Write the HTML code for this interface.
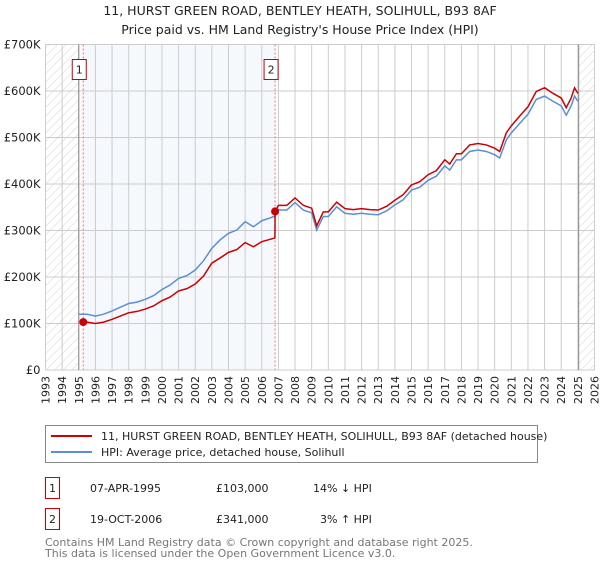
<!DOCTYPE html>
<html><head><meta charset="utf-8"><style>
body{margin:0;background:#fff;font-family:"DejaVu Sans","Liberation Sans",sans-serif;}
svg text{font-family:"DejaVu Sans","Liberation Sans",sans-serif;}
</style></head><body>
<svg id="chart" width="600" height="560" xmlns="http://www.w3.org/2000/svg">
<defs><pattern id="hatch" width="6" height="6" patternUnits="userSpaceOnUse" patternTransform="rotate(45)"><line x1="0" y1="0" x2="0" y2="6" stroke="#d4d4d4" stroke-width="1"/></pattern></defs>
<text x="300" y="15" text-anchor="middle" font-size="12.5" fill="#222">11, HURST GREEN ROAD, BENTLEY HEATH, SOLIHULL, B93 8AF</text>
<text x="300" y="34" text-anchor="middle" font-size="12.5" fill="#222">Price paid vs. HM Land Registry's House Price Index (HPI)</text>
<g id="plot"></g>
<g>
<rect x="45.5" y="425.5" width="492" height="37" fill="#fff" stroke="#888"/>
<line x1="51" y1="436" x2="92" y2="436" stroke="#cc0000" stroke-width="2"/>
<text x="101" y="440" font-size="11" fill="#222">11, HURST GREEN ROAD, BENTLEY HEATH, SOLIHULL, B93 8AF (detached house)</text>
<line x1="51" y1="452" x2="92" y2="452" stroke="#5b8fd4" stroke-width="2"/>
<text x="101" y="456" font-size="11" fill="#222">HPI: Average price, detached house, Solihull</text>
</g>
<g font-size="11" fill="#222">
<rect x="45.5" y="477.5" width="14" height="21" fill="#fff" stroke="#cc0000"/>
<text x="52.5" y="492" text-anchor="middle">1</text>
<text x="90" y="492">07-APR-1995</text><text x="216" y="492">£103,000</text><text x="313" y="492">14% ↓ HPI</text>
</g>
<g font-size="11" fill="#222">
<rect x="45.5" y="508.5" width="14" height="21" fill="#fff" stroke="#cc0000"/>
<text x="52.5" y="523" text-anchor="middle">2</text>
<text x="90" y="523">19-OCT-2006</text><text x="216" y="523">£341,000</text><text x="320" y="523">3% ↑ HPI</text>
</g>
<text x="45" y="546" font-size="11" fill="#777">Contains HM Land Registry data © Crown copyright and database right 2025.</text>
<text x="45" y="557" font-size="11" fill="#777">This data is licensed under the Open Government Licence v3.0.</text>
</svg>
<script>
const hpiYears=[1995,1995.5,1996,1996.5,1997,1997.5,1998,1998.5,1999,1999.5,2000,2000.5,2001,2001.5,2002,2002.5,2003,2003.5,2004,2004.5,2005,2005.5,2006,2006.5,2006.8,2007,2007.5,2008,2008.5,2009,2009.3,2009.7,2010,2010.5,2011,2011.5,2012,2012.5,2013,2013.5,2014,2014.5,2015,2015.5,2016,2016.5,2017,2017.3,2017.7,2018,2018.5,2019,2019.5,2020,2020.3,2020.7,2021,2021.5,2022,2022.5,2023,2023.5,2024,2024.3,2024.6,2024.8,2025];
const hpiValues=[120,120,116,120,127,135,143,146,152,160,173,183,197,203,215,235,262,280,294,301,319,308,321,327,331,344,344,360,344,338,301,330,330,351,337,335,337,335,334,342,355,366,387,393,408,417,439,430,452,452,470,473,470,463,456,495,510,530,550,582,589,578,568,548,568,589,578];
const priceYears=[1995.27,1995.5,1996,1996.5,1997,1997.5,1998,1998.5,1999,1999.5,2000,2000.5,2001,2001.5,2002,2002.5,2003,2003.5,2004,2004.5,2005,2005.5,2006,2006.5,2006.79,2006.8,2007,2007.5,2008,2008.5,2009,2009.3,2009.7,2010,2010.5,2011,2011.5,2012,2012.5,2013,2013.5,2014,2014.5,2015,2015.5,2016,2016.5,2017,2017.3,2017.7,2018,2018.5,2019,2019.5,2020,2020.3,2020.7,2021,2021.5,2022,2022.5,2023,2023.5,2024,2024.3,2024.6,2024.8,2025];
const priceValues=[103,103,100,103,109,116,123,126,131,138,149,157,170,175,185,202,230,241,253,259,274,265,276,281,284,341,354,354,370,354,348,310,340,340,361,347,345,347,345,344,352,365,377,398,405,420,429,452,443,465,465,484,487,484,477,470,510,525,546,566,599,607,595,585,564,585,607,595];
const saleYears=[1995.27,2006.8];
const saleValues=[103,341];
const yTicks=[0,100,200,300,400,500,600,700];
const yTickLabels=["£0","£100K","£200K","£300K","£400K","£500K","£600K","£700K"];
const xStart=1993,xEnd=2026;
const L=45.5,R=594.5,T=44.5,B=370;
const X=y=>L+(y-xStart)/(xEnd-xStart)*(R-L);
const Y=v=>B-v/700*(B-T);
const NS="http://www.w3.org/2000/svg";
const g=document.getElementById('plot');
function mk(t,a){const e=document.createElementNS(NS,t);for(const k in a)e.setAttribute(k,a[k]);g.appendChild(e);return e;}
let e;
e=mk('rect',{x:X(1995.27),y:T,width:X(2006.8)-X(1995.27),height:B-T,fill:'#eef3fc',opacity:0.6});


e=mk('rect',{x:L,y:T,width:X(1995)-L,height:B-T,fill:'url(#hatch)'});


e=mk('rect',{x:X(2025.05),y:T,width:R-X(2025.05),height:B-T,fill:'url(#hatch)'});


for(let yr=xStart;yr<=xEnd;yr++){
 e=mk('line',{x1:X(yr),x2:X(yr),y1:T,y2:B,stroke:'#ccc','stroke-width':1});
 
 
 e=mk('text',{x:0,y:0,'font-size':11,fill:'#222','text-anchor':'end',transform:`translate(${X(yr)+4},${B+6}) rotate(-90)`});
 e.textContent=yr;
 
 
}
yTicks.forEach((v,i)=>{
 e=mk('line',{x1:L,x2:R,y1:Y(v),y2:Y(v),stroke:'#ccc','stroke-width':1});
 
 
 e=mk('text',{x:L-5,y:Y(v)+4,'font-size':11.5,fill:'#222','text-anchor':'end'});
 e.textContent=yTickLabels[i];
 
 
});
e=mk('line',{x1:X(1995),x2:X(1995),y1:T,y2:B,stroke:'#888','stroke-width':1});


e=mk('line',{x1:X(2025.05),x2:X(2025.05),y1:T,y2:B,stroke:'#888','stroke-width':1});


saleYears.forEach((yr,i)=>{
 e=mk('line',{x1:X(yr),x2:X(yr),y1:T,y2:B,stroke:'#f07070','stroke-width':1,'stroke-dasharray':'2,2'});
 
 
});
e=mk('polyline',{points:hpiYears.map((y,i)=>X(y)+','+Y(hpiValues[i])).join(' '),fill:'none',stroke:'#5b8fd4','stroke-width':1.5});


e=mk('polyline',{points:priceYears.map((y,i)=>X(y)+','+Y(priceValues[i])).join(' '),fill:'none',stroke:'#cc0000','stroke-width':1.5});


saleYears.forEach((yr,i)=>{
 e=mk('circle',{cx:X(yr),cy:Y(saleValues[i]),r:4,fill:'#cc0000'});
 
 
 const bx=X(yr)-4;
 e=mk('rect',{x:bx-7,y:T+15,width:14,height:20,fill:'#fff',stroke:'#cc0000'});
 
 
 e=mk('text',{x:bx,y:T+29,'font-size':11,'text-anchor':'middle',fill:'#222'});
 e.textContent=String(i+1);
 
 
});
</script>
</body></html>
